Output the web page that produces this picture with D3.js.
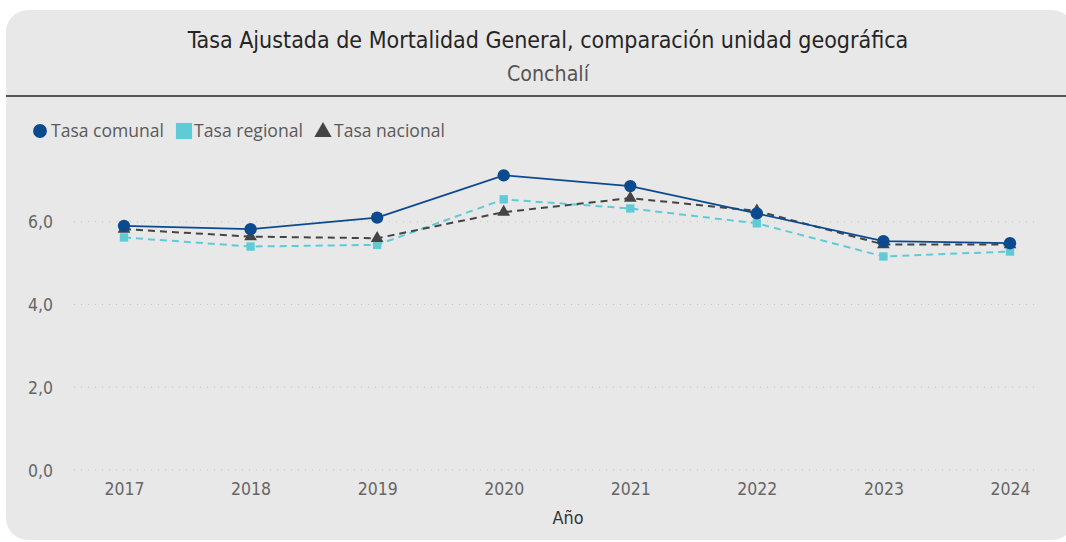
<!DOCTYPE html>
<html>
<head>
<meta charset="utf-8">
<script src="https://cdn.jsdelivr.net/npm/d3@7"></script>
<style>
  body { margin: 0; background: #fff; }
  svg { display: block; }
</style>
</head>
<body>
<div id="chart"></div>
<script>
// data
let years = [2017, 2018, 2019, 2020, 2021, 2022, 2023, 2024];
let tasaComunal = [5.90, 5.82, 6.10, 7.12, 6.86, 6.20, 5.53, 5.48];
let tasaRegional = [5.62, 5.40, 5.44, 6.54, 6.32, 5.96, 5.16, 5.28];
let tasaNacional = [5.82, 5.64, 5.60, 6.23, 6.57, 6.26, 5.45, 5.45];
let yTicks = [0, 2, 4, 6];

let w = 1066, h = 542;
let condensed = "'DejaVu Sans Condensed', 'DejaVu Sans', sans-serif";

const svg = d3.select("#chart")
    .append("svg")
    .attr("width", w)
    .attr("height", h);

// scale a text's font so it fills the width seen in the picture
function fitText(sel, target) {
    let node = sel.node();
    let size = parseFloat(sel.style("font-size"));
    let len = node.getComputedTextLength();
    sel.style("font-size", (size * target / len) + "px");
}

// panel
svg.append("rect")
    .attr("x", 6).attr("y", 10)
    .attr("width", 1068).attr("height", 530)
    .attr("rx", 22).attr("ry", 22)
    .style("fill", "#e8e8e8");

let title = svg.append("text")
    .attr("x", 548).attr("y", 48)
    .attr("text-anchor", "middle")
    .style("font-family", condensed)
    .style("font-size", "18px")
    .style("fill", "#252525")
    .text("Tasa Ajustada de Mortalidad General, comparación unidad geográfica");
fitText(title, 721);

let subtitle = svg.append("text")
    .attr("x", 548).attr("y", 81)
    .attr("text-anchor", "middle")
    .style("font-family", condensed)
    .style("font-size", "17px")
    .style("fill", "#555")
    .text("Conchalí");
fitText(subtitle, 82);

svg.append("line")
    .attr("x1", 6).attr("x2", w)
    .attr("y1", 96).attr("y2", 96)
    .style("stroke", "#555").style("stroke-width", 2);

let xScale = d3.scalePoint()
    .domain(years)
    .range([124, 1010]);

let yScale = d3.scaleLinear()
    .domain([0, 6])
    .range([470, 221.7]);

// grid
svg.append("g")
    .selectAll("line")
    .data(yTicks)
    .enter()
    .append("line")
    .attr("x1", 74).attr("x2", 1040)
    .attr("y1", d => yScale(d)).attr("y2", d => yScale(d))
    .style("stroke", "#c2c2c2")
    .style("stroke-width", 1)
    .style("stroke-dasharray", "1,6");

const yAxis = d3.axisLeft(yScale)
    .tickValues(yTicks)
    .tickSize(0)
    .tickFormat(d => d3.format(".1f")(d).replace(".", ","));

let yText = svg.append("g")
    .attr("transform", "translate(56,0)")
    .call(yAxis)
    .call(g => g.select(".domain").remove())
    .selectAll("text")
    .attr("dy", "0.36em")
    .style("font-family", condensed)
    .style("font-size", "16px")
    .style("fill", "#666");
fitText(d3.select(yText.nodes()[0]), 25);
yText.style("font-size", d3.select(yText.nodes()[0]).style("font-size"));

const xAxis = d3.axisBottom(xScale).tickSize(0).tickPadding(13);

let xText = svg.append("g")
    .attr("transform", "translate(0,470)")
    .call(xAxis)
    .call(g => g.select(".domain").remove())
    .selectAll("text")
    .style("font-family", condensed)
    .style("font-size", "16px")
    .style("fill", "#666");
fitText(d3.select(xText.nodes()[0]), 40);
xText.style("font-size", d3.select(xText.nodes()[0]).style("font-size"));

let xLabel = svg.append("text")
    .attr("x", 568).attr("y", 524)
    .attr("text-anchor", "middle")
    .style("font-family", condensed)
    .style("font-size", "16px")
    .style("fill", "#333")
    .text("Año");
fitText(xLabel, 31);

let series = [
    { name: "Tasa regional", values: tasaRegional, color: "#5fcbd6", dash: "7,5", shape: d3.symbolSquare },
    { name: "Tasa nacional", values: tasaNacional, color: "#444", dash: "7,5", shape: d3.symbolTriangle },
    { name: "Tasa comunal", values: tasaComunal, color: "#0c4a8f", dash: null, shape: d3.symbolCircle }
];

let line = d3.line()
    .x((d, i) => xScale(years[i]))
    .y(d => yScale(d));

series.forEach(s => {
    svg.append("path")
        .datum(s.values)
        .attr("d", line)
        .style("fill", "none")
        .style("stroke", s.color)
        .style("stroke-width", s.dash ? 2 : 1.8)
        .style("stroke-dasharray", s.dash);

    svg.append("g")
        .selectAll("path")
        .data(s.values)
        .enter()
        .append("path")
        .attr("transform", (d, i) => "translate(" + xScale(years[i]) + "," + yScale(d) + ")")
        .attr("d", d3.symbol().type(s.shape).size(s.shape == d3.symbolCircle ? 120 : 70))
        .style("fill", s.color);
});

// legend
let legendItems = [
    { name: "Tasa comunal", color: "#0c4a8f", shape: d3.symbolCircle, x: 40, tx: 51, tw: 113 },
    { name: "Tasa regional", color: "#5fcbd6", shape: d3.symbolSquare, x: 184, tx: 194, tw: 109 },
    { name: "Tasa nacional", color: "#444", shape: d3.symbolTriangle, x: 323, tx: 334, tw: 111 }
];

const legend = svg.append("g").attr("id", "legend");

legendItems.forEach(l => {
    legend.append("path")
        .attr("transform", "translate(" + l.x + "," + (l.shape == d3.symbolTriangle ? 132 : 131) + ")")
        .attr("d", d3.symbol().type(l.shape).size(l.shape == d3.symbolSquare ? 260 : (l.shape == d3.symbolCircle ? 150 : 130)))
        .style("fill", l.color);
    let t = legend.append("text")
        .attr("x", l.tx).attr("y", 137)
        .style("font-family", "'Open Sans', sans-serif")
        .style("font-size", "15px")
        .style("fill", "#5a5a5a")
        .text(l.name);
    fitText(t, l.tw);
});
</script>
</body>
</html>
